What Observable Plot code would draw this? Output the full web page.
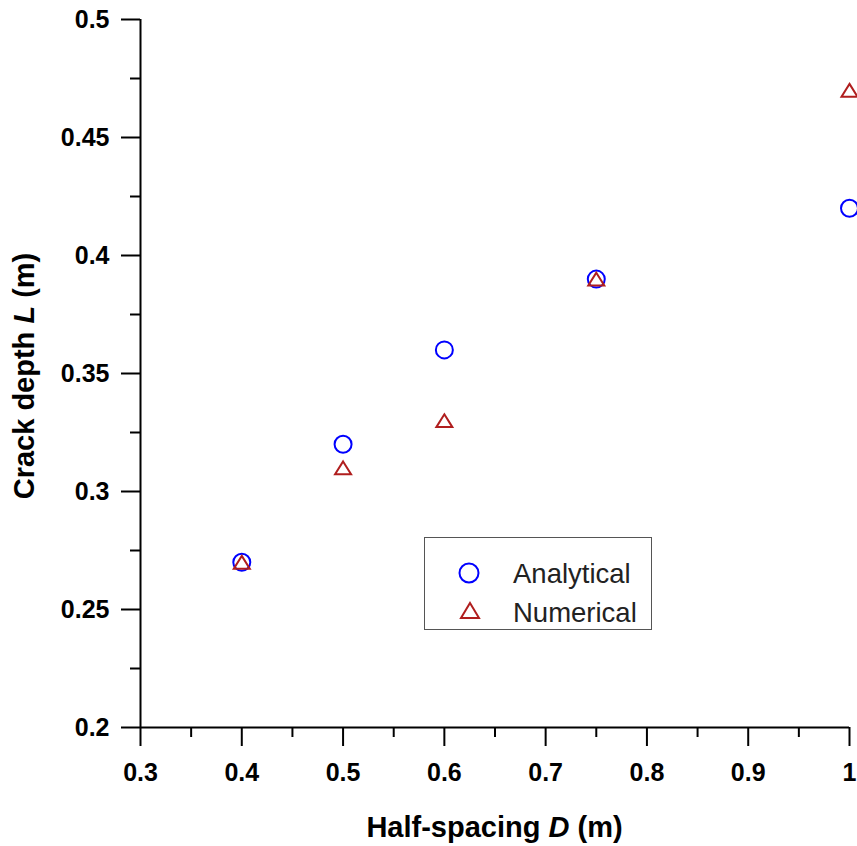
<!DOCTYPE html>
<html>
<head>
<meta charset="utf-8">
<script src="https://cdn.jsdelivr.net/npm/d3@7"></script>
<script src="https://cdn.jsdelivr.net/npm/@observablehq/plot@0.6"></script>
<style>
  html, body { margin: 0; padding: 0; background: #fff; }
  #chart { width: 857px; height: 846px; overflow: hidden; }
  svg { overflow: hidden; }
</style>
</head>
<body>
<div id="chart"></div>
<script>
// ---- data ----
const halfSpacing = [0.4, 0.5, 0.6, 0.75, 1.0];
const analytical = [0.27, 0.32, 0.36, 0.39, 0.42];
const numerical  = [0.27, 0.31, 0.33, 0.39, 0.47];
const seriesNames = ["Analytical", "Numerical"];
const seriesColors = ["#0000ff", "#b01e1e"];
const xDomain = [0.3, 1.0];
const yDomain = [0.2, 0.5];
const xMajor = [0.3, 0.4, 0.5, 0.6, 0.7, 0.8, 0.9, 1.0];
const xMinor = [0.35, 0.45, 0.55, 0.65, 0.75, 0.85, 0.95];
const yMajor = [0.2, 0.25, 0.3, 0.35, 0.4, 0.45, 0.5];
const yMinor = [0.225, 0.275, 0.325, 0.375, 0.425, 0.475];
const xTitle = ["Half-spacing ", "D", " (m)"];
const yTitle = ["Crack depth ", "L", " (m)"];

const rowsA = halfSpacing.map((d, i) => ({x: d, y: analytical[i]}));
const rowsN = halfSpacing.map((d, i) => ({x: d, y: numerical[i]}));

const triangleSym = {
  draw(ctx, size) {
    const r = Math.sqrt(size / Math.PI);
    const h = r * 1.6;
    ctx.moveTo(0, -h / 2);
    ctx.lineTo(r, h / 2);
    ctx.lineTo(-r, h / 2);
    ctx.closePath();
  }
};

const FONT = "'Liberation Sans', Arial, Helvetica, sans-serif";
const fmt = d => String(+d.toFixed(3));

const plot = Plot.plot({
  width: 857,
  height: 846,
  marginLeft: 140,
  marginRight: 8,
  marginTop: 19,
  marginBottom: 119,
  style: {fontFamily: FONT, fontSize: "25px", fontWeight: "bold", color: "#000", background: "#fff", overflow: "hidden"},
  x: {domain: xDomain, label: null},
  y: {domain: yDomain, label: null},
  marks: [
    Plot.axisX({ticks: xMinor, tickSize: 10, tickFormat: () => "", strokeWidth: 2, stroke: "#000"}),
    Plot.axisY({ticks: yMinor, tickSize: 10, tickFormat: () => "", strokeWidth: 2, stroke: "#000"}),
    Plot.axisX({ticks: xMajor, tickSize: 19, tickPadding: 17, tickFormat: fmt, strokeWidth: 2, stroke: "#000",
                fontSize: 25, fontWeight: "bold", fill: "#000"}),
    Plot.axisY({ticks: yMajor, tickSize: 19, tickPadding: 12, tickFormat: fmt, strokeWidth: 2, stroke: "#000",
                fontSize: 25, fontWeight: "bold", fill: "#000"}),
    Plot.ruleY([yDomain[0]], {stroke: "#000", strokeWidth: 2}),
    Plot.ruleX([xDomain[0]], {stroke: "#000", strokeWidth: 2}),
    Plot.dot(rowsA, {x: "x", y: "y", r: 8.5, symbol: "circle", stroke: seriesColors[0], strokeWidth: 2, fill: "none"}),
    Plot.dot(rowsN, {x: "x", y: "y", r: 8, symbol: triangleSym, stroke: seriesColors[1], strokeWidth: 2, fill: "none"})
  ]
});

document.getElementById("chart").appendChild(plot);

const svg = d3.select(plot);
const xs = plot.scale("x"), ys = plot.scale("y");
const x0 = xs.apply(xDomain[0]), x1 = xs.apply(xDomain[1]);
const y0 = ys.apply(yDomain[0]), y1 = ys.apply(yDomain[1]);

// axis titles
function addTitle(parts, attrs) {
  const t = svg.append("text")
    .attr("font-family", FONT).attr("font-size", 29).attr("font-weight", "bold")
    .attr("fill", "#000").attr("text-anchor", "middle");
  Object.entries(attrs).forEach(([k, v]) => t.attr(k, v));
  parts.forEach((p, i) => {
    const s = t.append("tspan").text(p);
    if (i === 1) s.attr("font-style", "italic");
  });
}
addTitle(xTitle, {x: (x0 + x1) / 2, y: 837});
addTitle(yTitle, {transform: `translate(34,${(y0 + y1) / 2 + 3}) rotate(-90)`});

// legend
const lg = svg.append("g");
lg.append("rect").attr("x", 424.5).attr("y", 537.5).attr("width", 227).attr("height", 92)
  .attr("fill", "#fff").attr("stroke", "#555").attr("stroke-width", 1);
lg.append("circle").attr("cx", 469).attr("cy", 573).attr("r", 9.5)
  .attr("fill", "none").attr("stroke", seriesColors[0]).attr("stroke-width", 2);
lg.append("path").attr("d", "M470,603 L479,618 L461,618 Z")
  .attr("fill", "none").attr("stroke", seriesColors[1]).attr("stroke-width", 2);
seriesNames.forEach((n, i) => {
  lg.append("text").attr("x", 513).attr("y", i === 0 ? 583 : 622)
    .attr("text-anchor", "start")
    .attr("font-family", FONT).attr("font-size", 27.5).attr("font-weight", "normal")
    .attr("fill", "#222").text(n);
});
</script>
</body>
</html>
